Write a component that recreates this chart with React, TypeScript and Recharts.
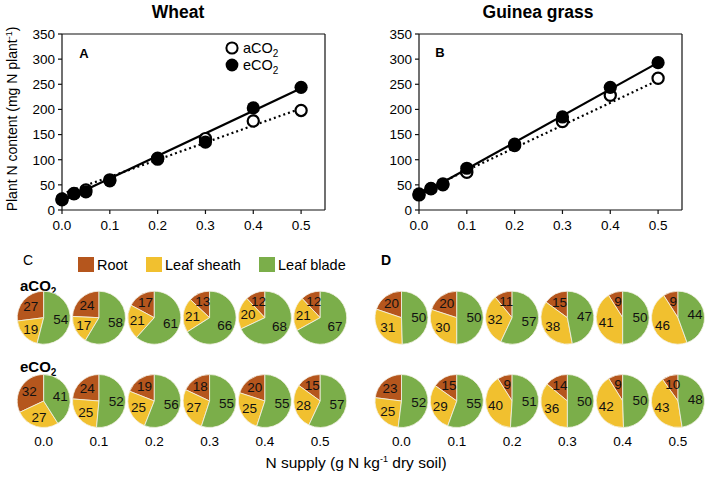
import React from 'react';
import {
  ComposedChart, Line, Scatter, XAxis, YAxis, ReferenceLine,
  PieChart, Pie, Cell
} from 'recharts';

const FONT = '"Liberation Sans", Arial, Helvetica, sans-serif';

// N supply levels (g N kg-1 dry soil)
const nLevels = [0, 0.025, 0.05, 0.1, 0.2, 0.3, 0.4, 0.5];
const xTicks = [0, 0.1, 0.2, 0.3, 0.4, 0.5];
const yTicks = [0, 50, 100, 150, 200, 250, 300, 350];

// plant N content, mg N per plant
const wheatA = [22, 33, 40, 60, 103, 142, 177, 198];
const wheatE = [20, 32, 36, 58, 101, 135, 203, 244];
const guineaA = [30, 42, 50, 75, 128, 176, 228, 262];
const guineaE = [32, 43, 52, 83, 131, 185, 244, 293];

// fitted lines, read at N = 0 and N = 0.5
const fitX = [0, 0.5];
const wheatFitA = [32, 202];
const wheatFitE = [18, 242];
const guineaFitA = [34, 258];
const guineaFitE = [29, 293];

// N distribution (%) among organs
const parts = ['Root', 'Leaf sheath', 'Leaf blade'];
const partColors = ['#B5561D', '#F1C02F', '#7BAE4A'];
const pieTicks = ['0.0', '0.1', '0.2', '0.3', '0.4', '0.5'];

const wheatRootA = [27, 24, 17, 13, 12, 12];
const wheatSheathA = [19, 17, 21, 21, 20, 21];
const wheatBladeA = [54, 58, 61, 66, 68, 67];
const wheatRootE = [32, 24, 19, 18, 20, 15];
const wheatSheathE = [27, 25, 25, 27, 25, 28];
const wheatBladeE = [41, 52, 56, 55, 55, 57];
const guineaRootA = [20, 20, 11, 15, 9, 9];
const guineaSheathA = [31, 30, 32, 38, 41, 46];
const guineaBladeA = [50, 50, 57, 47, 50, 44];
const guineaRootE = [23, 15, 9, 14, 9, 10];
const guineaSheathE = [25, 29, 40, 36, 42, 43];
const guineaBladeE = [52, 55, 51, 50, 50, 48];

const toPts = (xs: number[], ys: number[]) => xs.map((x, i) => ({ x, y: ys[i] }));
const buildPies = (root: number[], sheath: number[], blade: number[]) =>
  root.map((r, i) => [r, sheath[i], blade[i]].map((v, j) => ({ name: parts[j], value: v })));

const RAD = Math.PI / 180;

const Txt: React.FC<{ x: number; y: number; fs: number; bold?: boolean; center?: boolean; children: React.ReactNode }> =
  ({ x, y, fs, bold, center, children }) => (
    <div style={{
      position: 'absolute', left: x, top: y - fs / 2, fontSize: fs, lineHeight: 1,
      fontWeight: bold ? 700 : 400, whiteSpace: 'nowrap', color: '#000',
      transform: center ? 'translateX(-50%)' : undefined,
    }}>{children}</div>
  );

const openDot = (p: any) => <circle cx={p.cx} cy={p.cy} r={5.6} fill="#fff" stroke="#000" strokeWidth={2.2} />;
const fullDot = (p: any) => <circle cx={p.cx} cy={p.cy} r={6.6} fill="#000" />;

const NChart: React.FC<{ left: number; a: number[]; e: number[]; fitA: number[]; fitE: number[] }> =
  ({ left, a, e, fitA, fitE }) => (
    <div style={{ position: 'absolute', left, top: 0 }}>
      <ComposedChart width={340} height={235} margin={{ top: 34, right: 15, bottom: 0, left: 22 }}>
        <XAxis type="number" dataKey="x" domain={[0, 0.55]} ticks={xTicks} height={25}
          tickFormatter={(v: number) => v.toFixed(1)} stroke="#111" strokeWidth={1.2}
          tickSize={4} tickMargin={6} tick={{ fill: '#000', fontSize: 13.5, fontFamily: FONT }} />
        <YAxis type="number" domain={[0, 350]} ticks={yTicks} width={40} stroke="#111" strokeWidth={1.2}
          tickSize={4} tickMargin={3} tick={{ fill: '#000', fontSize: 13.5, fontFamily: FONT }} />
        <ReferenceLine y={350} stroke="#111" strokeWidth={1.2} />
        <ReferenceLine x={0.55} stroke="#111" strokeWidth={1.2} />
        <Line data={toPts(fitX, fitA)} dataKey="y" type="linear" stroke="#000" strokeWidth={2.2}
          strokeDasharray="2 3" dot={false} isAnimationActive={false} />
        <Line data={toPts(fitX, fitE)} dataKey="y" type="linear" stroke="#000" strokeWidth={2.2}
          dot={false} isAnimationActive={false} />
        <Scatter data={toPts(nLevels, a)} dataKey="y" shape={openDot} isAnimationActive={false} />
        <Scatter data={toPts(nLevels, e)} dataKey="y" shape={fullDot} isAnimationActive={false} />
      </ComposedChart>
    </div>
  );

const pieLabel = (p: any) => {
  const r = p.outerRadius * 0.65;
  const x = p.cx + r * Math.cos(-p.midAngle * RAD);
  const y = p.cy + r * Math.sin(-p.midAngle * RAD);
  return (
    <text x={x} y={y} textAnchor="middle" dominantBaseline="central"
      fontSize={13.5} fill="#111" fontFamily={FONT}>{p.value}</text>
  );
};

const pieRows = [
  { pies: buildPies(wheatRootA, wheatSheathA, wheatBladeA), x0: 43.7, cy: 67.7 },
  { pies: buildPies(wheatRootE, wheatSheathE, wheatBladeE), x0: 43.7, cy: 151 },
  { pies: buildPies(guineaRootA, guineaSheathA, guineaBladeA), x0: 401.5, cy: 67.7 },
  { pies: buildPies(guineaRootE, guineaSheathE, guineaBladeE), x0: 401.5, cy: 151 },
];
const STEP = 55.3;

const App: React.FC = () => (
  <div style={{ position: 'absolute', left: 0, top: 0, width: 708, height: 477, background: '#fff', fontFamily: FONT, overflow: 'hidden' }}>
    <NChart left={0} a={wheatA} e={wheatE} fitA={wheatFitA} fitE={wheatFitE} />
    <NChart left={357} a={guineaA} e={guineaE} fitA={guineaFitA} fitE={guineaFitE} />

    <Txt x={178} y={13} fs={17.5} bold center>Wheat</Txt>
    <Txt x={538} y={13} fs={17.5} bold center>Guinea grass</Txt>
    <div style={{
      position: 'absolute', left: 12, top: 119, fontSize: 14, lineHeight: 1, whiteSpace: 'nowrap',
      transform: 'translate(-50%, -50%) rotate(-90deg)',
    }}>Plant N content (mg N plant<sup style={{ fontSize: 9 }}>-1</sup>)</div>

    <Txt x={84} y={53} fs={13} bold center>A</Txt>
    <Txt x={440} y={52} fs={13} bold center>B</Txt>

    <svg style={{ position: 'absolute', left: 224, top: 40 }} width={16} height={34}>
      <circle cx={8} cy={8} r={5.6} fill="#fff" stroke="#000" strokeWidth={2} />
      <circle cx={8} cy={25} r={6.4} fill="#000" />
    </svg>
    <Txt x={243} y={48} fs={14.5}>aCO<sub style={{ fontSize: 10 }}>2</sub></Txt>
    <Txt x={243} y={65} fs={14.5}>eCO<sub style={{ fontSize: 10 }}>2</sub></Txt>

    <Txt x={28} y={260} fs={14} center>C</Txt>
    <Txt x={386} y={260} fs={14} bold center>D</Txt>
    {parts.map((p, i) => {
      const sx = [78, 146, 259][i];
      return (
        <React.Fragment key={p}>
          <div style={{ position: 'absolute', left: sx, top: 257, width: 16, height: 15, background: partColors[i] }} />
          <Txt x={sx + 19} y={265} fs={14.5}>{p}</Txt>
        </React.Fragment>
      );
    })}
    <Txt x={20} y={285} fs={15} bold>aCO<sub style={{ fontSize: 10 }}>2</sub></Txt>
    <Txt x={20} y={366} fs={15} bold>eCO<sub style={{ fontSize: 10 }}>2</sub></Txt>

    <div style={{ position: 'absolute', left: 0, top: 250 }}>
      <PieChart width={708} height={190} margin={{ top: 0, right: 0, bottom: 0, left: 0 }}>
        {pieRows.flatMap((row, ri) => row.pies.map((d, i) => (
          <Pie key={`${ri}-${i}`} data={d} dataKey="value" nameKey="name"
            cx={row.x0 + i * STEP} cy={row.cy} outerRadius={26.5}
            startAngle={90} endAngle={450} stroke="#f4f1e6" strokeWidth={0.8}
            label={pieLabel} labelLine={false} isAnimationActive={false}>
            {d.map((_, j) => <Cell key={j} fill={partColors[j]} />)}
          </Pie>
        )))}
      </PieChart>
    </div>

    {pieTicks.map((t, i) => (
      <React.Fragment key={t}>
        <Txt x={43.7 + i * STEP} y={441.5} fs={13.5} center>{t}</Txt>
        <Txt x={401.5 + i * STEP} y={441.5} fs={13.5} center>{t}</Txt>
      </React.Fragment>
    ))}
    <Txt x={356} y={463} fs={15.5} center>N supply (g N kg<sup style={{ fontSize: 9 }}>-1</sup> dry soil)</Txt>
  </div>
);

export default App;
